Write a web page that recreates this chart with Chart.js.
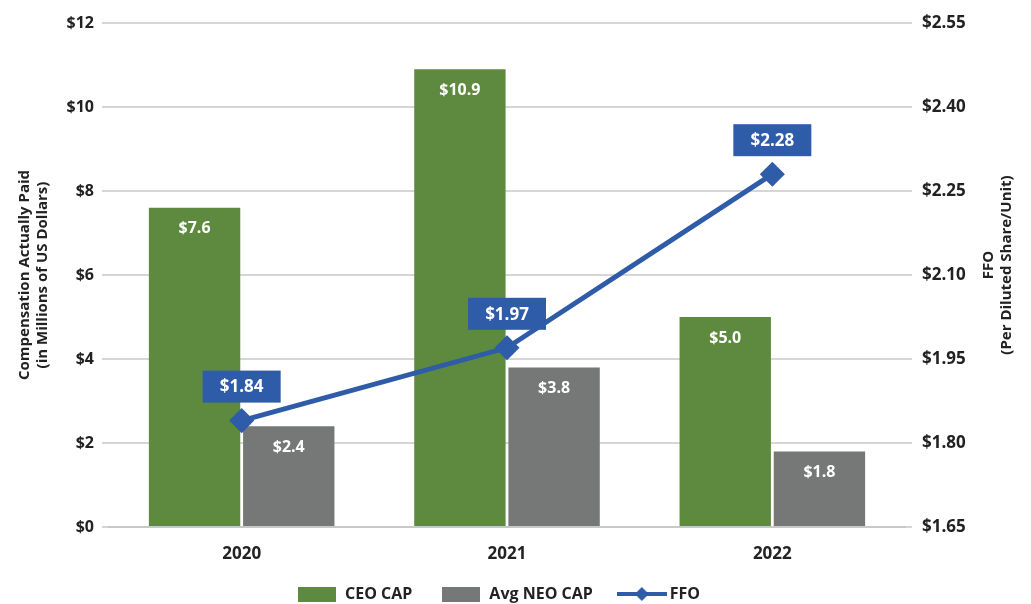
<!DOCTYPE html>
<html>
<head>
<meta charset="utf-8">
<script src="https://cdn.jsdelivr.net/npm/chart.js@4.4.1/dist/chart.umd.min.js"></script>
<style>
  html, body { margin: 0; padding: 0; background: #fff; }
  #wrap { width: 1031px; height: 604px; position: relative; }
</style>
</head>
<body>
<div id="wrap"><canvas id="Chart"></canvas></div>
<script>
// データ
const years = ['2020', '2021', '2022'];
const ceoCap = [7.6, 10.9, 5.0];
const neoCap = [2.4, 3.8, 1.8];
const ffo = [1.84, 1.97, 2.28];
const leftTicks = [0, 2, 4, 6, 8, 10, 12];
const rightTicks = [1.65, 1.80, 1.95, 2.10, 2.25, 2.40, 2.55];

const GREEN = '#5d8a3f';
const GRAY = '#767777';
const BLUE = '#2f5ca8';
const FONT = '"Open Sans", "Liberation Sans", sans-serif';

// 凡例のアイコン
function rectIcon(color) {
	const c = document.createElement('canvas');
	c.width = 38; c.height = 15;
	const g = c.getContext('2d');
	g.fillStyle = color;
	g.fillRect(0, 0, 38, 15);
	return c;
}
function lineIcon(color) {
	const c = document.createElement('canvas');
	c.width = 50; c.height = 16;
	const g = c.getContext('2d');
	g.strokeStyle = color;
	g.lineWidth = 4;
	g.beginPath(); g.moveTo(0, 8); g.lineTo(50, 8); g.stroke();
	g.fillStyle = color;
	g.beginPath(); g.moveTo(25, 1); g.lineTo(32, 8); g.lineTo(25, 15); g.lineTo(18, 8); g.closePath(); g.fill();
	return c;
}

// 値ラベル
const valueLabels = {
	id: 'valueLabels',
	afterDatasetsDraw(chart) {
		const ctx = chart.ctx;
		ctx.save();
		ctx.textAlign = 'center';
		ctx.textBaseline = 'middle';
		chart.data.datasets.forEach((ds, i) => {
			const meta = chart.getDatasetMeta(i);
			meta.data.forEach((el, j) => {
				const v = ds.data[j];
				if (ds.type === 'line') {
					const w = 78, h = 32;
					const cy = el.y - 34;
					ctx.fillStyle = BLUE;
					ctx.fillRect(el.x - w / 2, cy - h / 2, w, h);
					ctx.fillStyle = '#fff';
					ctx.font = 'bold 17px ' + FONT;
					ctx.fillText('$' + v.toFixed(2), el.x, cy + 1);
				} else {
					ctx.fillStyle = '#fff';
					ctx.font = 'bold 16px ' + FONT;
					ctx.fillText('$' + v.toFixed(1), el.x, el.y + 21);
				}
			});
		});
		ctx.restore();
	}
};

// 右軸タイトル
const rightTitle = {
	id: 'rightTitle',
	afterDraw(chart) {
		const ctx = chart.ctx;
		const a = chart.chartArea;
		ctx.save();
		ctx.translate(998, (a.top + a.bottom) / 2 - 10);
		ctx.rotate(-Math.PI / 2);
		ctx.textAlign = 'center';
		ctx.textBaseline = 'middle';
		ctx.fillStyle = '#222';
		ctx.font = 'bold 15px ' + FONT;
		ctx.fillText('FFO', 0, -9);
		ctx.fillText('(Per Diluted Share/Unit)', 0, 9);
		ctx.restore();
	}
};

let lineCtx = document.getElementById('Chart');
let config = {
	data: {
		labels: years,
		datasets: [{
			type: 'bar',
			label: 'CEO CAP',
			data: ceoCap,
			backgroundColor: GREEN,
			yAxisID: 'y',
			order: 2,
			categoryPercentage: 0.71,
			barPercentage: 0.97,
		}, {
			type: 'bar',
			label: 'Avg NEO CAP',
			data: neoCap,
			backgroundColor: GRAY,
			yAxisID: 'y',
			order: 2,
			categoryPercentage: 0.71,
			barPercentage: 0.97,
		}, {
			type: 'line',
			label: 'FFO',
			data: ffo,
			borderColor: BLUE,
			backgroundColor: BLUE,
			borderWidth: 5,
			pointStyle: 'rectRot',
			pointRadius: 9,
			pointHoverRadius: 9,
			yAxisID: 'y1',
			order: 1,
		}],
	},
	options: {
		responsive: false,
		animation: false,
		layout: { padding: { top: 23, bottom: -8, left: 16 } },
		plugins: {
			tooltip: { enabled: false },
			legend: {
				position: 'bottom',
				labels: {
					usePointStyle: true,
					pointStyleWidth: 40,
					padding: 4,
					color: '#222',
					font: { family: FONT, size: 16, weight: 'bold' },
					generateLabels(chart) {
						const icons = [rectIcon(GREEN), rectIcon(GRAY), lineIcon(BLUE)];
						const pad = ['      ', '      ', '            '];
						return chart.data.datasets.map((ds, i) => ({
							text: ds.label + pad[i],
							pointStyle: icons[i],
							fillStyle: 'transparent',
							strokeStyle: 'transparent',
							lineWidth: 0,
							datasetIndex: i,
							fontColor: '#222',
						}));
					}
				}
			}
		},
		scales: {
			x: {
				grid: { display: false },
				border: { color: '#c8c8c8', width: 2 },
				ticks: { color: '#222', padding: 9, font: { family: FONT, size: 17, weight: 'bold' } },
				afterFit(scale) { scale.height = 55; }
			},
			y: {
				position: 'left',
				min: 0,
				max: 12,
				afterBuildTicks(scale) { scale.ticks = leftTicks.map(v => ({ value: v })); },
				grid: { color: '#d6d6d6', lineWidth: 2, tickLength: 7 },
				border: { display: false },
				ticks: {
					color: '#222',
					padding: 8,
					font: { family: FONT, size: 16, weight: 'bold' },
					callback: v => '$' + v,
				},
				title: {
					display: true,
					text: ['Compensation Actually Paid', '(in Millions of US Dollars)'],
					color: '#222',
					font: { family: FONT, size: 15, weight: 'bold' },
					padding: 0,
				},
				afterFit(scale) { scale.width = 93; }
			},
			y1: {
				position: 'right',
				min: 1.65,
				max: 2.55,
				afterBuildTicks(scale) { scale.ticks = rightTicks.map(v => ({ value: v })); },
				grid: { drawOnChartArea: false, color: '#d6d6d6', lineWidth: 2, tickLength: 7 },
				border: { display: false },
				ticks: {
					color: '#222',
					padding: 10,
					font: { family: FONT, size: 17, weight: 'bold' },
					callback: v => '$' + v.toFixed(2),
				},
				afterFit(scale) { scale.width = 126; }
			}
		},
	},
	plugins: [valueLabels, rightTitle],
};
lineCtx.width = 1031;
lineCtx.height = 604;
let chart = new Chart(lineCtx, config);
</script>
</body>
</html>
